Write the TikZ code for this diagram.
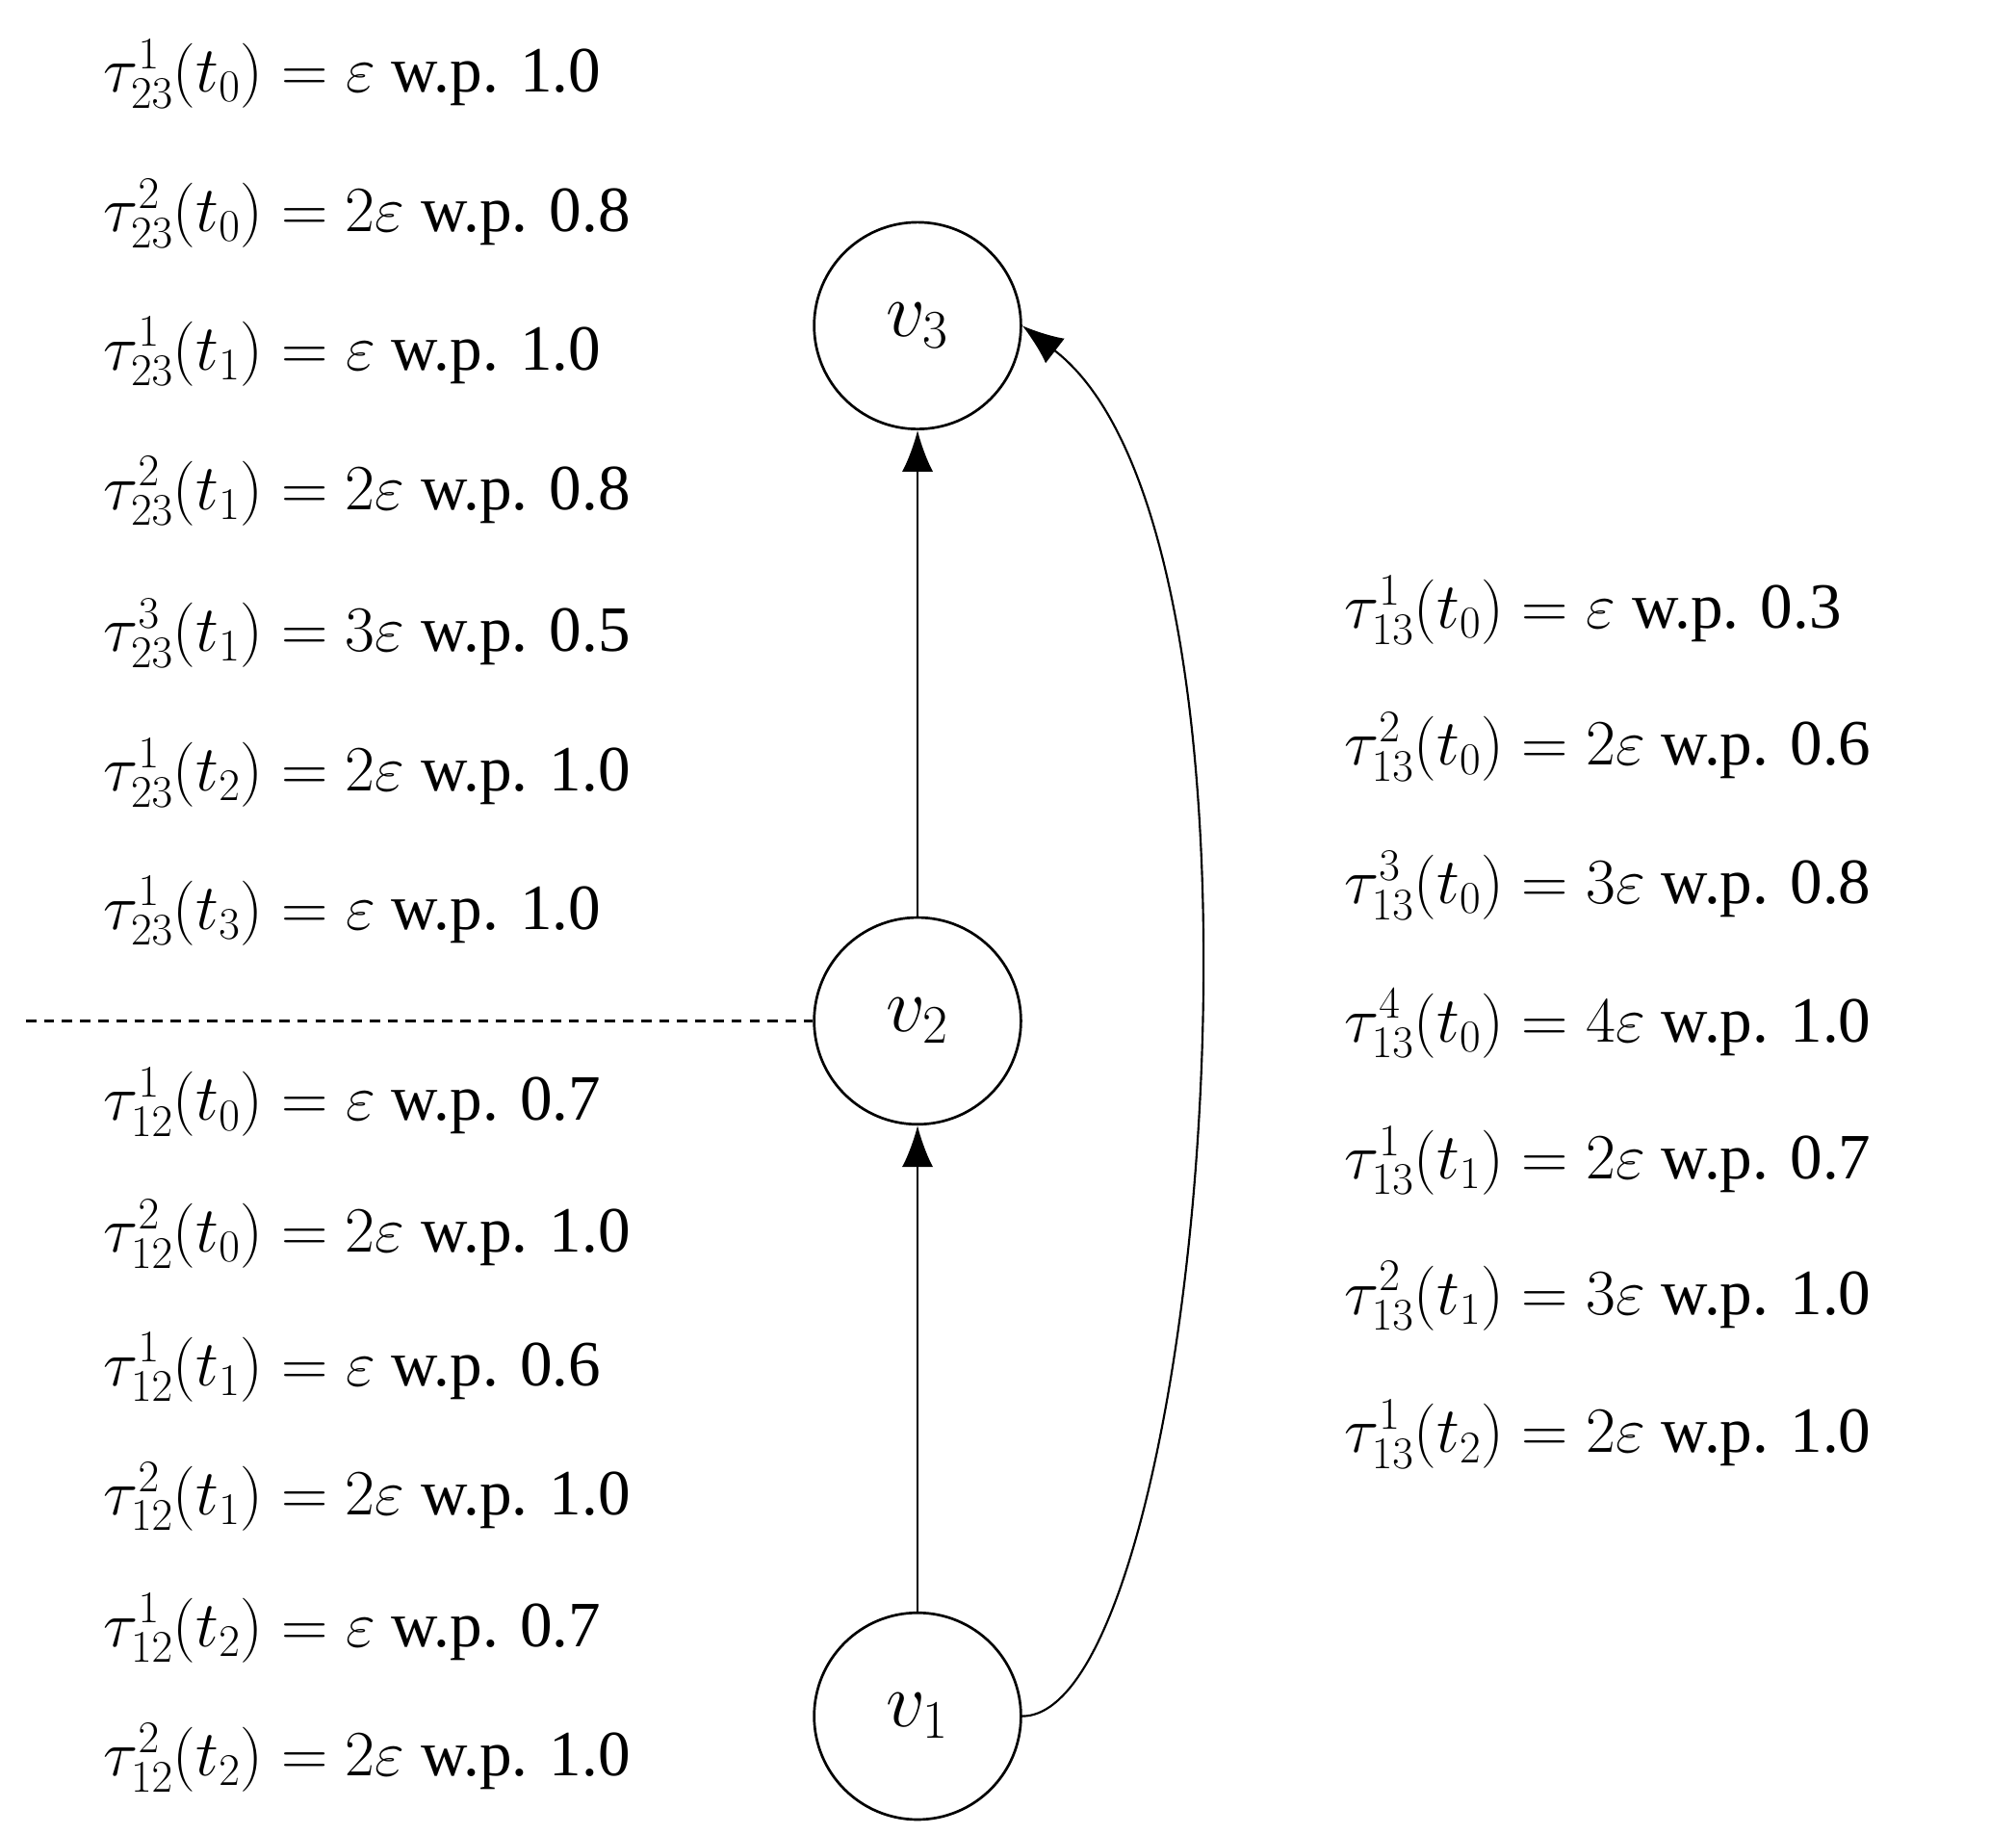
\RequirePackage{fix-cm}
\documentclass[tikz,border=0pt]{standalone}
\usepackage{fontspec}
\setmainfont{Liberation Serif}
\usetikzlibrary{arrows.meta}
\begin{document}
\begin{tikzpicture}[x=1pt,y=-1pt,
  v/.style={circle,draw,line width=2pt,minimum size=160pt,inner sep=0pt,font=\fontsize{60}{64}\selectfont},
  lab/.style={anchor=west,inner sep=0pt,font=\fontsize{50}{54}\selectfont},
  arr/.style={line width=1.6pt,-{Latex[length=32pt,width=24pt]}}]
\useasboundingbox (0,0) rectangle (1560,1419);
\node[v] (v3) at (710,252) {$v_3$};
\node[v] (v2) at (710,790) {$v_2$};
\node[v] (v1) at (710,1328) {$v_1$};
\coordinate (dl) at (20,790);
\draw[line width=1.6pt,dash pattern=on 8pt off 6pt] (dl) -- (v2.west);
\draw[arr] (v1) -- (v2);
\draw[arr] (v2) -- (v3);
\draw[arr] (v1.east) .. controls (930,1328) and (1010,420) .. (v3.east);
\foreach \y/\t in {57/{$\tau^1_{23}(t_0)=\varepsilon$ w.p. 1.0},165/{$\tau^2_{23}(t_0)=2\varepsilon$ w.p. 0.8},272/{$\tau^1_{23}(t_1)=\varepsilon$ w.p. 1.0},380/{$\tau^2_{23}(t_1)=2\varepsilon$ w.p. 0.8},490/{$\tau^3_{23}(t_1)=3\varepsilon$ w.p. 0.5},598/{$\tau^1_{23}(t_2)=2\varepsilon$ w.p. 1.0},705/{$\tau^1_{23}(t_3)=\varepsilon$ w.p. 1.0},853/{$\tau^1_{12}(t_0)=\varepsilon$ w.p. 0.7},955/{$\tau^2_{12}(t_0)=2\varepsilon$ w.p. 1.0},1058/{$\tau^1_{12}(t_1)=\varepsilon$ w.p. 0.6},1158/{$\tau^2_{12}(t_1)=2\varepsilon$ w.p. 1.0},1260/{$\tau^1_{12}(t_2)=\varepsilon$ w.p. 0.7},1360/{$\tau^2_{12}(t_2)=2\varepsilon$ w.p. 1.0}}
  \node[lab] (l\y) at (80,\y) {\t};
\foreach \y/\t in {472/{$\tau^1_{13}(t_0)=\varepsilon$ w.p. 0.3},578/{$\tau^2_{13}(t_0)=2\varepsilon$ w.p. 0.6},685/{$\tau^3_{13}(t_0)=3\varepsilon$ w.p. 0.8},792/{$\tau^4_{13}(t_0)=4\varepsilon$ w.p. 1.0},898/{$\tau^1_{13}(t_1)=2\varepsilon$ w.p. 0.7},1003/{$\tau^2_{13}(t_1)=3\varepsilon$ w.p. 1.0},1110/{$\tau^1_{13}(t_2)=2\varepsilon$ w.p. 1.0}}
  \node[lab] (r\y) at (1040,\y) {\t};
\end{tikzpicture}
\end{document}
